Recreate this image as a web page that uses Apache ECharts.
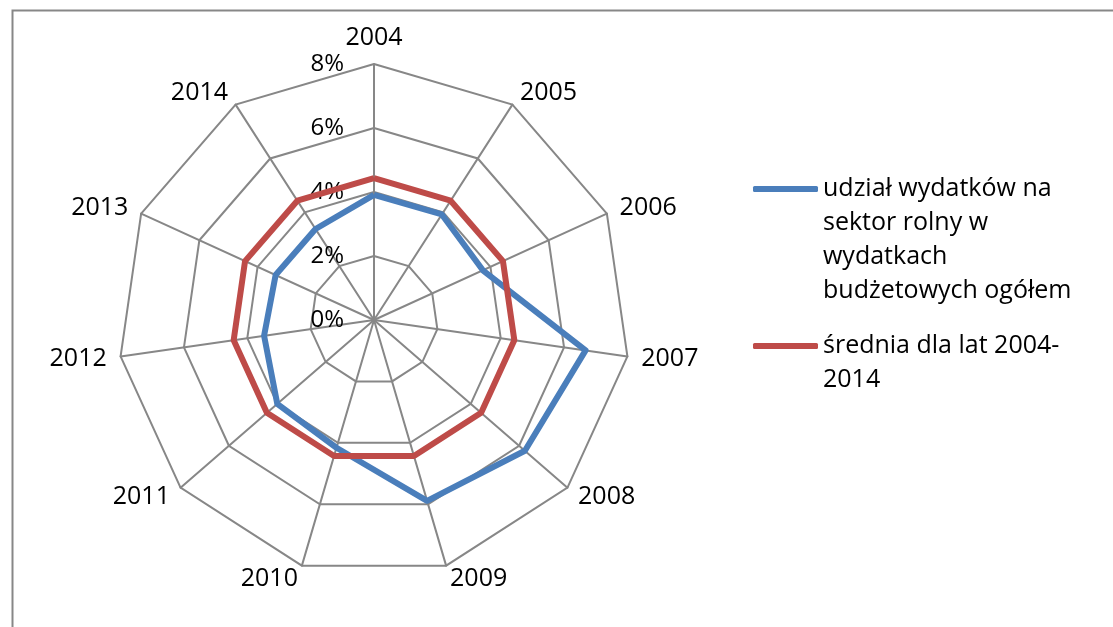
<!DOCTYPE html>
<html lang="pl" style="height: 100%">
<head>
  <meta charset="utf-8">
  <title>udzial wydatkow - radar</title>
  <style>
    html, body { height: 100%; margin: 0; background: #fff; }
  </style>
</head>
<body>
  <div id="container" style="width: 1113px; height: 627px"></div>
  <script src="https://cdn.jsdelivr.net/npm/echarts@6/dist/echarts.min.js"></script>
  <script type="text/javascript">
    // lata (osie radaru)
    var years = ['2004', '2005', '2006', '2007', '2008', '2009', '2010', '2011', '2012', '2013', '2014'];
    // udzial wydatkow na sektor rolny w wydatkach budzetowych ogolem [%]
    var udzial = [3.91, 3.92, 3.74, 6.68, 6.24, 5.89, 4.16, 4.00, 3.47, 3.38, 3.38];
    // srednia dla lat 2004-2014 [%]
    var srednia = [4.43, 4.43, 4.43, 4.43, 4.43, 4.43, 4.43, 4.43, 4.43, 4.43, 4.43];
    var tickLabels = ['0%', '2%', '4%', '6%', '8%'];
    var names = [
      'udział wydatków na\nsektor rolny w\nwydatkach\nbudżetowych ogółem',
      'średnia dla lat 2004-\n2014'
    ];

    var FONT = 'Open Sans';
    var GRAY = '#878787';
    var LH = 34;

    // Excel rysuje zgodnie z ruchem wskazowek zegara, echarts odwrotnie
    var order = [0];
    for (var i = years.length - 1; i > 0; i--) order.push(i);

    var indicator = order.map(function (k, j) {
      var ind = { name: years[k], min: 0, max: 8 };
      if (j === 0) {
        ind.axisLabel = {
          show: true,
          color: '#000',
          fontFamily: FONT,
          fontSize: 24,
          margin: 30,
          formatter: function (v, idx) { return tickLabels[idx]; }
        };
      }
      return ind;
    });

    // puste linie na gorze, zeby kreska legendy stala przy pierwszym wierszu
    function topAligned(name) {
      var n = name.split('\n').length;
      return new Array(n).join('\n') + name;
    }

    function legendFor(name, top) {
      return {
        data: [name],
        left: 753, top: top,
        padding: 0,
        icon: 'roundRect',
        itemWidth: 65, itemHeight: 6,
        formatter: topAligned,
        textStyle: { fontFamily: FONT, fontSize: 25, color: '#000', lineHeight: LH }
      };
    }

    var dom = document.getElementById('container');
    var myChart = echarts.init(dom, null, { renderer: 'canvas' });
    var option = {
      animation: false,
      backgroundColor: '#fff',
      graphic: [{
        type: 'rect',
        left: 10, top: 8,
        shape: { width: 1200, height: 700 },
        style: { fill: 'none', stroke: GRAY, lineWidth: 2 },
        silent: true
      }],
      legend: [
        legendFor(names[0], 189 - 3.5 * LH),
        legendFor(names[1], 346 - 1.5 * LH)
      ],
      radar: {
        center: [374, 320],
        radius: 256,
        shape: 'polygon',
        splitNumber: 4,
        startAngle: 90,
        indicator: indicator,
        axisName: { color: '#000', fontFamily: FONT, fontSize: 25 },
        nameGap: 14,
        axisLine: { lineStyle: { color: GRAY, width: 2 } },
        splitLine: { lineStyle: { color: GRAY, width: 2 } },
        splitArea: { show: false },
        axisTick: { show: false },
        axisLabel: { show: false }
      },
      series: [{
        type: 'radar',
        symbol: 'none',
        data: [{
          name: names[0],
          value: order.map(function (k) { return udzial[k]; }),
          lineStyle: { color: '#4a7ebb', width: 6 },
          itemStyle: { color: '#4a7ebb' }
        }, {
          name: names[1],
          value: order.map(function (k) { return srednia[k]; }),
          lineStyle: { color: '#be4b48', width: 6 },
          itemStyle: { color: '#be4b48' }
        }]
      }]
    };
    myChart.setOption(option);
    window.addEventListener('resize', myChart.resize);
  </script>
</body>
</html>
